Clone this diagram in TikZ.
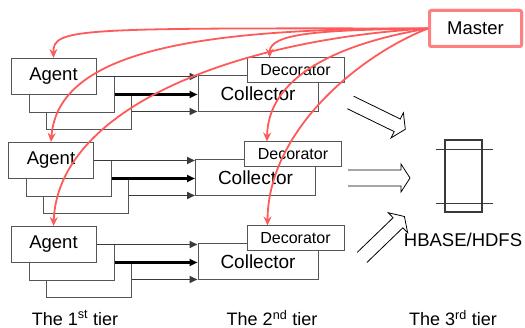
\documentclass[tikz,border=0pt]{standalone}
\usepackage{fontspec}
\setmainfont{Liberation Sans}
\usetikzlibrary{calc,arrows.meta}
\definecolor{BoxGray}{HTML}{555555}
\definecolor{LinkGray}{HTML}{3A3A3A}
\definecolor{CtrlRed}{HTML}{FF5A5A}
\definecolor{MasterRed}{HTML}{FF8080}

\tikzset{
  box/.style={draw=BoxGray,fill=white,line width=1pt,inner sep=0pt},
  agentbox/.style={box,minimum width=85pt,minimum height=36pt,font=\fontsize{18.5}{20}\selectfont},
  collbox/.style={box,minimum width=120pt,minimum height=36pt,font=\fontsize{19}{21}\selectfont},
  decobox/.style={box,minimum width=97pt,minimum height=25pt,font=\fontsize{16}{18}\selectfont},
  feed/.style={draw=LinkGray,line width=1.9pt,-{Triangle[length=8pt,width=7pt]}},
  ctrl/.style={draw=CtrlRed,line width=1.8pt,-{Stealth[length=9pt,width=8pt]}},
  bigarrow/.style={draw=black,line width=0.8pt},
  tierlabel/.style={font=\fontsize{18}{20}\selectfont}
}

\begin{document}
\begin{tikzpicture}[x=1pt,y=-1pt]
  \useasboundingbox (0,0) rectangle (525,328);

  % agents, collectors and decorators, one row each
  \foreach \r/\dx/\dy in {1/0/0,2/-2.5/84,3/0/168}{
    \begin{scope}[shift={(\dx,\dy)}]
      \node[agentbox] (agent\r-c) at (88.5,111.5) {};
      \node[agentbox] (agent\r-b) at (71.5,94.5) {};
      \node[agentbox] (agent\r) at (53.5,76.5) {Agent};
      \node[collbox] (coll\r) at (258,94) {Collector};
      \node[decobox] (deco\r) at (295.5,70.5) {Decorator};
    \end{scope}
    \draw[feed] (agent\r.east) -- (agent\r.east -| coll\r.west);
    \draw[feed,draw=black,line width=2.3pt] (agent\r-b.east) -- (agent\r-b.east -| coll\r.west);
    \draw[feed] (agent\r-c.east) -- (agent\r-c.east -| coll\r.west);
  }

  % storage
  \node[draw=LinkGray,line width=1.4pt,minimum width=37pt,minimum height=72pt,inner sep=0pt] (hbase) at (463.5,176) {};
  \draw[LinkGray,line width=1.4pt] ([xshift=-8pt,yshift=-10pt]hbase.north west) -- ([xshift=10pt,yshift=-10pt]hbase.north east);
  \draw[LinkGray,line width=1.4pt] ([xshift=-8pt,yshift=9pt]hbase.south west) -- ([xshift=10pt,yshift=9pt]hbase.south east);
  \node[font=\fontsize{18.5}{20}\selectfont] (hbaselabel) at (463,240) {HBASE/HDFS};

  % hollow arrows into storage
  \foreach \pos/\ang/\len/\w in {{(350.5,102.5)}/-26/52/7, {(348,178)}/0/53/8, {(362,257.5)}/44/50/7}
    \draw[bigarrow,shift={\pos},rotate=\ang] (0,-\w) -- (\len,-\w) -- (\len,-14) -- ++(9,14) -- (\len,14) -- (\len,\w) -- (0,\w);

  % master
  \node[draw=MasterRed,line width=3pt,rounded corners=2pt,fill=white,minimum width=92pt,minimum height=36pt,inner sep=0pt,font=\fontsize{18.5}{20}\selectfont] (master) at (475.5,28.5) {Master};

  % control links
  \draw[ctrl] (master.west) .. controls (75,28) and (53,28) .. (agent1.north);
  \draw[ctrl] (master.west) .. controls (200,28) and (58,50) .. (agent2.north);
  \draw[ctrl] (master.west) .. controls (230,40) and (58,110) .. (agent3.north);
  \draw[ctrl] (master.west) .. controls (320,30) and (270,33) .. ([xshift=23pt]deco1.north west);
  \draw[ctrl] (master.west) .. controls (330,45) and (268,80) .. ([xshift=23pt]deco2.north west);
  \draw[ctrl] (master.west) .. controls (360,55) and (268,130) .. ([xshift=21pt]deco3.north west);
  \node[draw=MasterRed,line width=3pt,rounded corners=2pt,fill=white,minimum width=92pt,minimum height=36pt,inner sep=0pt,font=\fontsize{18.5}{20}\selectfont] at (master) {Master};

  % tiers
  \node[tierlabel] (tier1) at (75,318) {The 1\textsuperscript{st} tier};
  \node[tierlabel] (tier2) at (272,318) {The 2\textsuperscript{nd} tier};
  \node[tierlabel] (tier3) at (453,318) {The 3\textsuperscript{rd} tier};
\end{tikzpicture}
\end{document}
